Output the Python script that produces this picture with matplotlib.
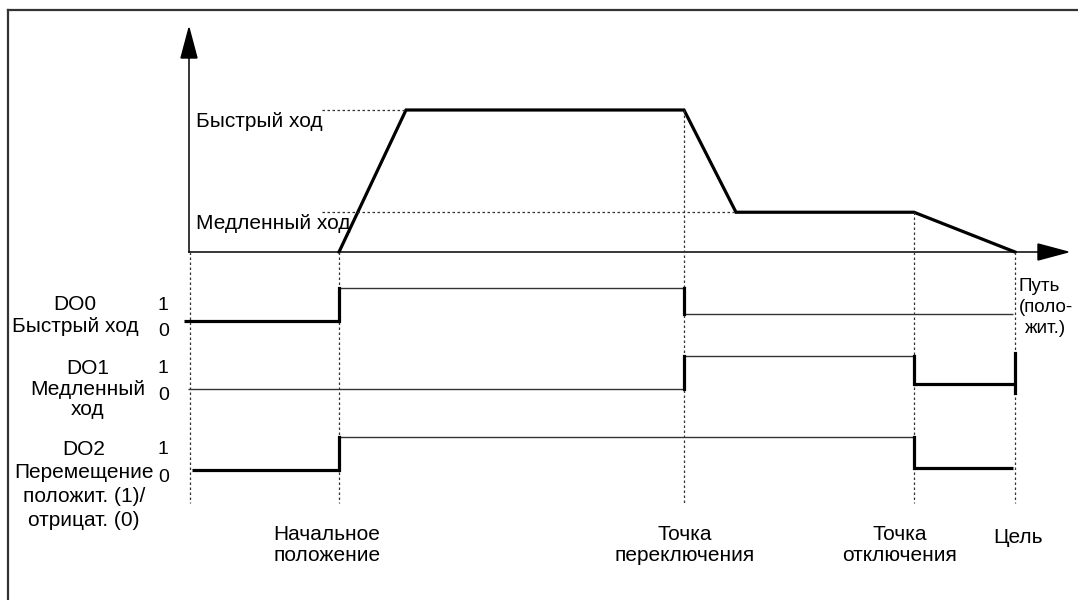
import matplotlib
matplotlib.use("Agg")
import matplotlib.pyplot as plt

# Positions along the path (drawing columns, px)
origin_pos = 190
start_pos = 339
fast_reached_pos = 406
switch_pos = 684
slow_reached_pos = 736
cutoff_pos = 914
target_pos = 1015

# Speed profile: path position -> speed (% of rapid speed)
speed_pos = [start_pos, fast_reached_pos, switch_pos, slow_reached_pos, cutoff_pos, target_pos]
speed_val = [0, 100, 100, 28, 28, 0]
speed_names = ["Быстрый ход", "Медленный ход"]
speed_levels = [100, 28]

# Digital outputs: breakpoints, state per segment, thick flag per segment
do0_x = [184, start_pos, switch_pos, target_pos - 2]
do0_state = [0, 1, 0.2]
do0_thick = [True, False, False]

do1_x = [188, switch_pos, cutoff_pos, target_pos]
do1_state = [0, 1, 0.15]
do1_thick = [False, False, True]

do2_x = [192, start_pos, cutoff_pos, target_pos - 2]
do2_state = [0, 1, 0.06]
do2_thick = [True, False, True]

do_labels = [
    ["DO0", "Быстрый ход"],
    ["DO1", "Медленный", "ход"],
    ["DO2", "Перемещение", "положит. (1)/", "отрицат. (0)"],
]
event_pos = [start_pos, switch_pos, cutoff_pos, target_pos]
event_labels = [["Начальное", "положение"], ["Точка", "переключения"],
                ["Точка", "отключения"], ["Цель"]]
path_label = ["Путь", "(поло-", "жит.)"]

# layout (px of a 1078x600 canvas)
W, H = 1078, 600
axis_y = 252          # speed zero line
speed_scale = 1.42    # px per % of speed
row_zero = [321, 389, 470]
row_high = 33
FONT = "Liberation Sans"
FS = 15

plt.rcParams["font.family"] = [FONT, "DejaVu Sans"]
fig = plt.figure(figsize=(W / 100, H / 100), dpi=100)
ax = fig.add_axes([0, 0, 1, 1])
ax.set_xlim(0, W)
ax.set_ylim(H, 0)
ax.axis("off")

THICK = 2.3
THIN = 1.0
thin_col = "#333333"
dot = dict(color="#333333", lw=0.9, linestyle=(0, (2, 2)))

# frame (only top and left edges are visible in the crop)
ax.plot([8, 8], [10, H], color="#333333", lw=1.6)
ax.plot([8, W], [10, 10], color="#333333", lw=1.6)

# axes with arrowheads
ax.plot([origin_pos - 1, origin_pos - 1], [axis_y, 58], color="black", lw=1.1)
ax.fill([origin_pos - 9, origin_pos - 1, origin_pos + 7], [58, 28, 58], color="black")
ax.plot([origin_pos - 1, 1038], [axis_y, axis_y], color="black", lw=1.1)
ax.fill([1038, 1068, 1038], [axis_y - 8, axis_y, axis_y + 8], color="black")


def speed_y(v):
    return axis_y - v * speed_scale


# speed profile
ax.plot(speed_pos, [speed_y(v) for v in speed_val], color="black", lw=THICK,
        solid_joinstyle="miter")

# helper dotted lines for the speed levels
ax.plot([322, fast_reached_pos], [speed_y(speed_levels[0])] * 2, **dot)
ax.plot([322, slow_reached_pos], [speed_y(speed_levels[1])] * 2, **dot)
for name, lvl in zip(speed_names, speed_levels):
    ax.text(196, speed_y(lvl) + 17, name, fontsize=FS, ha="left", va="baseline")

# vertical dotted lines at the events
ax.plot([origin_pos, origin_pos], [axis_y, 503], **dot)
ax.plot([start_pos, start_pos], [axis_y, 503], **dot)
ax.plot([switch_pos, switch_pos], [speed_y(100), 503], **dot)
ax.plot([cutoff_pos, cutoff_pos], [speed_y(28), 503], **dot)
ax.plot([target_pos, target_pos], [axis_y, 503], **dot)


def draw_signal(xs, states, thick, y0):
    ys = [y0 - s * row_high for s in states]
    for i in range(len(states)):
        ax.plot([xs[i], xs[i + 1]], [ys[i], ys[i]], color="black" if thick[i] else thin_col,
                lw=THICK if thick[i] else THIN, solid_capstyle="butt")
        if i > 0:
            ax.plot([xs[i], xs[i]], [ys[i - 1], ys[i]], color="black", lw=THICK,
                    solid_capstyle="projecting")


draw_signal(do0_x, do0_state, do0_thick, row_zero[0])
draw_signal(do1_x, do1_state, do1_thick, row_zero[1])
draw_signal(do2_x, do2_state, do2_thick, row_zero[2])
# end stop at the target on DO1
ax.plot([target_pos, target_pos], [row_zero[1] - 36, row_zero[1] + 4], color="black", lw=THICK)

# output labels
label_base = [[310, 332], [374, 395, 415], [455, 478, 502, 526]]
label_cx = [75, 88, 84]
for lines, bases, cx in zip(do_labels, label_base, label_cx):
    for txt, b in zip(lines, bases):
        ax.text(cx, b, txt, fontsize=FS, ha="center", va="baseline")
level_base = [[310, 336], [373, 400], [454, 482]]
for bases in level_base:
    ax.text(163, bases[0], "1", fontsize=FS - 1, ha="center", va="baseline")
    ax.text(164, bases[1], "0", fontsize=FS - 1, ha="center", va="baseline")

# event labels under the diagram
event_cx = [327, 685, 900, 1018]
for lines, cx in zip(event_labels, event_cx):
    if len(lines) == 1:
        ax.text(cx, 543, lines[0], fontsize=FS, ha="center", va="baseline")
    else:
        ax.text(cx, 540, lines[0], fontsize=FS, ha="center", va="baseline")
        ax.text(cx, 561, lines[1], fontsize=FS, ha="center", va="baseline")

# path axis label
for txt, xl, b in zip(path_label, [1019, 1019, 1025], [291, 312, 333]):
    ax.text(xl, b, txt, fontsize=FS - 1.5, ha="left", va="baseline")

fig.savefig("out.png", dpi=100)
